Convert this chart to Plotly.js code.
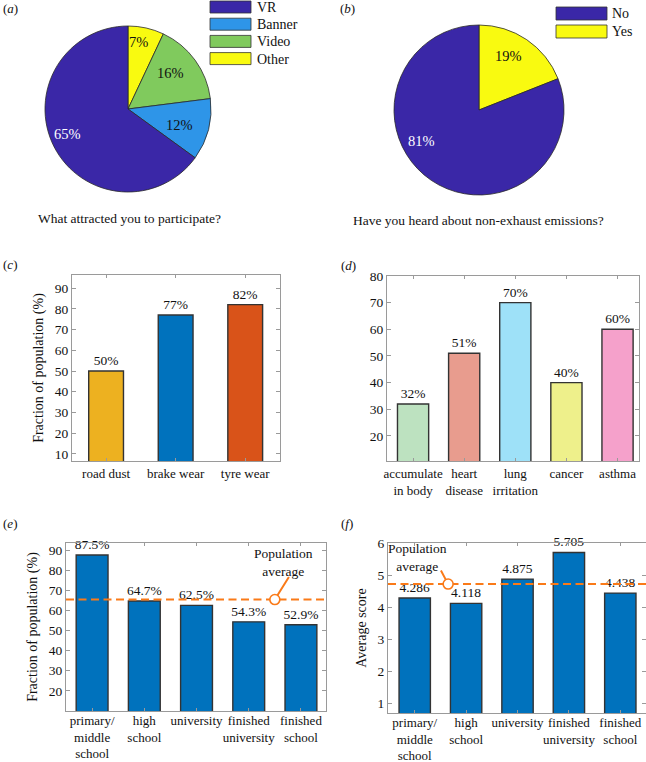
<!DOCTYPE html>
<html>
<head>
<meta charset="utf-8">
<script src="https://cdn.plot.ly/plotly-3.0.1.min.js"></script>
<style>html,body{margin:0;padding:0;background:#fff;}#chart{width:646px;height:762px;}</style>
</head>
<body>
<div id="chart"></div>
<script>
// ---------- DATA ----------
const pieA_labels = ['VR', 'Banner', 'Video', 'Other'];
const pieA_values = [65, 12, 16, 7];
const pieA_caption = 'What attracted you to participate?';

const pieB_labels = ['No', 'Yes'];
const pieB_values = [81, 19];
const pieB_caption = 'Have you heard about non-exhaust emissions?';

const c_categories = ['road dust', 'brake wear', 'tyre wear'];
const c_values = [50, 77, 82];

const d_categories = ['accumulate<br>in body', 'heart<br>disease', 'lung<br>irritation', 'cancer', 'asthma'];
const d_values = [32, 51, 70, 40, 60];

const edu_categories = ['primary/<br>middle<br>school', 'high<br>school', 'university', 'finished<br>university', 'finished<br>school'];
const e_values = [87.5, 64.7, 62.5, 54.3, 52.9];
const e_average = 65.4;
const f_values = [4.286, 4.118, 4.875, 5.705, 4.438];
const f_average = 4.72;

const c_ticks = [10, 20, 30, 40, 50, 60, 70, 80, 90];
const d_ticks = [20, 30, 40, 50, 60, 70, 80];
const e_ticks = [20, 30, 40, 50, 60, 70, 80, 90];
const f_ticks = [1, 2, 3, 4, 5, 6];

// ---------- STYLE ----------
const W = 646, H = 762;
const FONT = 'Liberation Serif, Times New Roman, serif';
const pieA_colors = ['#3A27A7', '#2E95E8', '#80CA5D', '#F9FA10'];
const pieA_textcolors = ['#ffffff', '#111111', '#111111', '#111111'];
const pieA_labelPos = [[67, 134], [179.5, 125], [170, 73], [138, 42]];   // percent label placement (px)
const pieB_colors = ['#3A27A7', '#F9FA10'];
const pieB_textcolors = ['#ffffff', '#111111'];
const pieB_labelPos = [[421.5, 141], [508, 56]];
const c_colors = ['#EDB120', '#0072BD', '#D95319'];
const d_colors = ['#BDE2C0', '#E89C8E', '#9EE1F8', '#EEF08B', '#F5A1CB'];
const blue = '#0072BD';
const orange = '#FA7A18';
const axisGray = '#9a9a9a';
const outline = '#333333';

function px(x) { return x / W; }
function py(y) { return 1 - y / H; }
function idx(arr) { return arr.map(function (_, i) { return i; }); }
function rev(arr) { return arr.slice().reverse(); }

const data = [];

// Pies (slices run counter-clockwise from 12 o'clock in the reference:
// drawn clockwise in reversed order)
data.push({
  type: 'pie', labels: rev(pieA_labels), values: rev(pieA_values), sort: false,
  direction: 'clockwise', rotation: 0, textinfo: 'none',
  marker: {colors: rev(pieA_colors), line: {color: '#2a2a2a', width: 0.8}},
  domain: {x: [px(45), px(211)], y: [py(192), py(26)]},
  showlegend: false, hoverinfo: 'label+percent'
});
data.push({
  type: 'pie', labels: rev(pieB_labels), values: rev(pieB_values), sort: false,
  direction: 'clockwise', rotation: 0, textinfo: 'none',
  marker: {colors: rev(pieB_colors), line: {color: '#2a2a2a', width: 0.8}},
  domain: {x: [px(394), px(564)], y: [py(195), py(25)]},
  showlegend: false, hoverinfo: 'label+percent'
});

function barTrace(cats, vals, colors, xa, ya, width, tmpl) {
  return {
    type: 'bar', x: idx(cats), y: vals, xaxis: xa, yaxis: ya, width: width,
    marker: {color: colors, line: {color: outline, width: 1.4}},
    texttemplate: tmpl, textposition: 'outside',
    constraintext: 'none', cliponaxis: false,
    textfont: {family: FONT, size: 13.5, color: '#111'},
    showlegend: false, hoverinfo: 'y'
  };
}
data.push(barTrace(c_categories, c_values, c_colors, 'x', 'y', 0.5, '%{y}%'));
data.push(barTrace(d_categories, d_values, d_colors, 'x2', 'y2', 0.61, '%{y}%'));
data.push(barTrace(edu_categories, e_values, blue, 'x3', 'y3', 0.61, '%{y}%'));
data.push(barTrace(edu_categories, f_values, blue, 'x4', 'y4', 0.61, '%{y}'));

const eXRange = [-0.5, 4.48];
const fXRange = [-0.52, 4.5];

// Average lines
data.push({type: 'scatter', mode: 'lines', x: eXRange, y: [e_average, e_average], xaxis: 'x3', yaxis: 'y3',
  line: {color: orange, width: 2, dash: '8px,4.5px'}, showlegend: false, hoverinfo: 'skip'});
data.push({type: 'scatter', mode: 'lines', x: fXRange, y: [f_average, f_average], xaxis: 'x4', yaxis: 'y4',
  line: {color: orange, width: 2, dash: '8px,4.5px'}, showlegend: false, hoverinfo: 'skip'});
// callout circles
const eCalloutX = 3.5, fCalloutX = 0.65;
data.push({type: 'scatter', mode: 'markers', x: [eCalloutX], y: [e_average], xaxis: 'x3', yaxis: 'y3',
  marker: {symbol: 'circle', size: 10, color: '#fff', line: {color: orange, width: 1.6}}, showlegend: false, hoverinfo: 'skip'});
data.push({type: 'scatter', mode: 'markers', x: [fCalloutX], y: [f_average], xaxis: 'x4', yaxis: 'y4',
  marker: {symbol: 'circle', size: 10, color: '#fff', line: {color: orange, width: 1.6}}, showlegend: false, hoverinfo: 'skip'});

const tickFont = {family: FONT, size: 13.5, color: '#111'};
const xTickFont = {family: FONT, size: 13, color: '#111'};
function xAxis(domain, range, anchor, cats, standoff) {
  return {domain: domain, range: range, anchor: anchor, type: 'linear',
    tickvals: idx(cats), ticktext: cats, tickangle: 0, ticklabelstandoff: standoff || 0,
    showline: true, linecolor: axisGray, linewidth: 1, mirror: 'ticks',
    ticks: 'inside', ticklen: 3, tickcolor: axisGray, tickfont: xTickFont,
    showgrid: false, zeroline: false, fixedrange: true, automargin: false};
}
function yAxis(domain, range, anchor, ticks, title) {
  const a = {domain: domain, range: range, anchor: anchor, type: 'linear',
    showline: true, linecolor: axisGray, linewidth: 1, mirror: 'ticks',
    ticks: 'inside', ticklen: 4, tickcolor: axisGray, tickfont: tickFont,
    tickvals: ticks, ticktext: ticks.map(String), tickangle: 0,
    showgrid: false, zeroline: false, fixedrange: true, automargin: false};
  if (title) a.title = {text: title, font: {family: FONT, size: 14, color: '#111'}, standoff: 7};
  return a;
}

const annotations = [];
const shapes = [];
function txt(x, y, t, size, opts) {
  annotations.push(Object.assign({xref: 'paper', yref: 'paper', x: px(x), y: py(y), text: t, showarrow: false,
    font: {family: FONT, size: size || 13.5, color: '#111'}, xanchor: 'center', yanchor: 'middle'}, opts || {}));
}
// Pie percentage labels
function pct(values) {
  const tot = values.reduce(function (a, b) { return a + b; }, 0);
  return values.map(function (v) { return Math.round(100 * v / tot) + '%'; });
}
pct(pieA_values).forEach(function (t, i) {
  txt(pieA_labelPos[i][0], pieA_labelPos[i][1], t, 14.5, {font: {family: FONT, size: 14.5, color: pieA_textcolors[i]}});
});
pct(pieB_values).forEach(function (t, i) {
  txt(pieB_labelPos[i][0], pieB_labelPos[i][1], t, 14.5, {font: {family: FONT, size: 14.5, color: pieB_textcolors[i]}});
});
// Panel labels
txt(1, 9, '(<i>a</i>)', 13, {xanchor: 'left'});
txt(338, 8, '(<i>b</i>)', 13, {xanchor: 'left'});
txt(1, 264, '(<i>c</i>)', 13, {xanchor: 'left'});
txt(339, 265, '(<i>d</i>)', 13, {xanchor: 'left'});
txt(1, 523, '(<i>e</i>)', 13, {xanchor: 'left'});
txt(339, 523, '(<i>f</i>)', 13, {xanchor: 'left'});
// Captions
txt(129, 219, pieA_caption, 13.5);
txt(478, 220, pieB_caption, 13.5);

// Legends (drawn as boxes + text)
pieA_labels.forEach(function (lab, i) {
  const top = 1 + i * 17.2;
  shapes.push({type: 'rect', xref: 'paper', yref: 'paper', x0: px(210), x1: px(251), y0: py(top + 12), y1: py(top),
    fillcolor: pieA_colors[i], line: {color: '#333', width: 0.8}});
  txt(255, top + 6.5, lab, 14, {xanchor: 'left'});
});
pieB_labels.forEach(function (lab, i) {
  const top = 7 + i * 18;
  shapes.push({type: 'rect', xref: 'paper', yref: 'paper', x0: px(556), x1: px(607), y0: py(top + 13), y1: py(top),
    fillcolor: pieB_colors[i], line: {color: '#333', width: 0.8}});
  txt(610, top + 6.5, lab, 14, {xanchor: 'left'});
});

// Callouts
annotations.push({xref: 'x3', yref: 'y3', x: eCalloutX, y: e_average, text: '', showarrow: true, arrowhead: 0,
  arrowwidth: 2, arrowcolor: orange, ax: 15, ay: -24, standoff: 5});
annotations.push({xref: 'x3', yref: 'y3', x: 3.66, y: 84.0, text: 'Population<br>average', showarrow: false,
  font: {family: FONT, size: 13.5, color: '#111'}});
annotations.push({xref: 'x4', yref: 'y4', x: fCalloutX, y: f_average, text: '', showarrow: true, arrowhead: 0,
  arrowwidth: 2, arrowcolor: orange, ax: -8, ay: -15, standoff: 5});
annotations.push({xref: 'x4', yref: 'y4', x: 0.05, y: 5.56, text: 'Population<br>average', showarrow: false,
  font: {family: FONT, size: 13.5, color: '#111'}});

const layout = {
  width: W, height: H, margin: {l: 0, r: 0, t: 0, b: 0},
  paper_bgcolor: '#fff', plot_bgcolor: '#fff',
  font: {family: FONT, size: 13.5, color: '#111'},
  showlegend: false, bargap: 0,
  xaxis: xAxis([px(72), px(280)], [-0.49, 2.5], 'y', c_categories),
  yaxis: yAxis([py(461), py(275)], [6.6, 96.3], 'x', c_ticks, 'Fraction of population (%)'),
  xaxis2: xAxis([px(387), px(639)], [-0.51, 4.42], 'y2', d_categories),
  yaxis2: yAxis([py(461), py(276)], [10.6, 80], 'x2', d_ticks, null),
  xaxis3: xAxis([px(66), px(326)], eXRange, 'y3', edu_categories, -3),
  yaxis3: yAxis([py(711), py(543)], [10, 93.5], 'x3', e_ticks, 'Fraction of population (%)'),
  xaxis4: xAxis([px(388), px(646)], fXRange, 'y4', edu_categories, -3),
  yaxis4: yAxis([py(713), py(543)], [0.7, 6], 'x4', f_ticks, 'Average score'),
  annotations: annotations, shapes: shapes
};

Plotly.newPlot('chart', data, layout, {displayModeBar: false, staticPlot: true});
</script>
</body>
</html>
